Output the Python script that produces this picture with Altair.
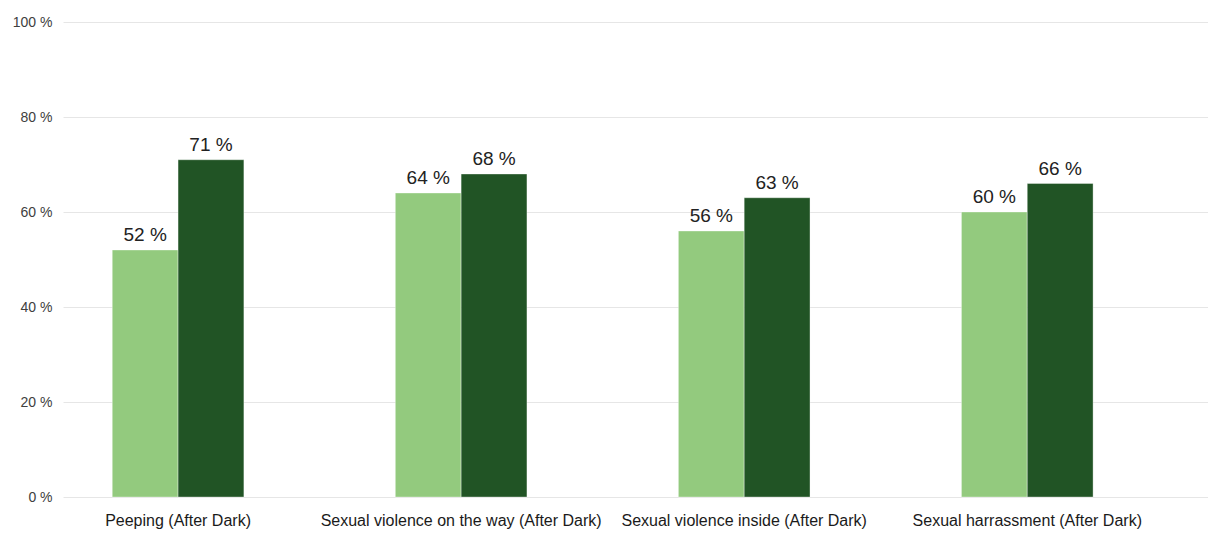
import altair as alt
import pandas as pd

categories = [
    "Peeping (After Dark)",
    "Sexual violence on the way (After Dark)",
    "Sexual violence inside (After Dark)",
    "Sexual harrassment (After Dark)",
]
series = ["Group 1", "Group 2"]
group1_values = [52, 64, 56, 60]
group2_values = [71, 68, 63, 66]
y_ticks = [0, 20, 40, 60, 80, 100]
colors = ["#93ca7e", "#215425"]

rows = []
for c, v1, v2 in zip(categories, group1_values, group2_values):
    rows.append({"category": c, "series": series[0], "value": v1})
    rows.append({"category": c, "series": series[1], "value": v2})
df = pd.DataFrame(rows)
df["label"] = df["value"].astype(str) + " %"

FONT = "Liberation Sans"

x_enc = alt.X(
    "category:N",
    sort=categories,
    scale=alt.Scale(paddingInner=0.535, paddingOuter=0.29, align=0.3),
    axis=alt.Axis(
        title=None, labelAngle=0, ticks=False, domain=False, grid=False,
        labelFontSize=16, labelColor="#1a1a1a", labelPadding=15,
        labelFont=FONT, labelLimit=0, labelOverlap=False,
    ),
)
xoff_enc = alt.XOffset("series:N", sort=series,
                       scale=alt.Scale(paddingInner=0, paddingOuter=0))
y_enc = alt.Y(
    "value:Q",
    scale=alt.Scale(domain=[0, 100], nice=False),
    axis=alt.Axis(
        title=None, values=y_ticks, labelExpr="datum.value + ' %'",
        ticks=False, domain=False, grid=True, gridColor="#e6e6e6",
        labelFontSize=14, labelColor="#404040", labelPadding=11, labelFont=FONT,
    ),
)

bars = alt.Chart(df).mark_bar(stroke="#ffffff", strokeOpacity=0.35, strokeWidth=1).encode(
    x=x_enc,
    xOffset=xoff_enc,
    y=y_enc,
    color=alt.Color("series:N", sort=series,
                    scale=alt.Scale(domain=series, range=colors), legend=None),
)

labels = alt.Chart(df).mark_text(
    baseline="bottom", dy=-5, fontSize=19, color="#222222", font=FONT
).encode(
    x=alt.X("category:N", sort=categories),
    xOffset=alt.XOffset("series:N", sort=series),
    y=alt.Y("value:Q"),
    text="label:N",
)

chart = (
    alt.layer(bars, labels)
    .properties(
        width=1145, height=475,
        autosize=alt.AutoSizeParams(type="none"),
        padding={"left": 63, "top": 22, "right": 0, "bottom": 39},
        background="white",
    )
    .configure_view(stroke=None)
)

chart.save("out.html", embed_options={"renderer": "svg", "actions": False})
